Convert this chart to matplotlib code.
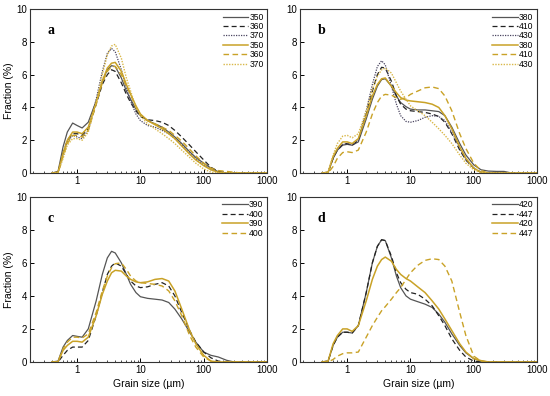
import matplotlib
matplotlib.use("Agg")
import matplotlib.pyplot as plt
from matplotlib.ticker import LogLocator, NullFormatter, FixedLocator

plt.rcParams["font.family"] = ["Liberation Sans", "DejaVu Sans"]

# grain size grid (um) shared by all curves
sizes = [0.4, 0.5, 0.6, 0.7, 0.85, 1.0, 1.2, 1.5, 2.0, 2.5, 3.0, 3.5, 4.0, 5.0, 6.0, 7.0,
         8.5, 10, 13, 17, 22, 28, 35, 45, 60, 75, 100, 130, 170, 230, 300, 400, 1000]

# panel a
a_350k = [0, 0.1, 1.6, 2.5, 3.05, 2.9, 2.75, 3.1, 4.4, 5.6, 6.3, 6.55, 6.5, 5.8, 5.0, 4.5, 3.9, 3.5, 3.2, 3.0, 2.8, 2.5, 2.2, 1.8, 1.3, 0.95, 0.6, 0.3, 0.08, 0, 0, 0, 0]
a_360k = [0, 0.05, 1.2, 2.0, 2.4, 2.4, 2.3, 2.7, 4.2, 5.4, 6.0, 6.3, 6.2, 5.5, 4.8, 4.3, 3.8, 3.45, 3.25, 3.2, 3.1, 2.9, 2.6, 2.2, 1.7, 1.3, 0.8, 0.35, 0.1, 0, 0, 0, 0]
a_370k = [0, 0.05, 1.1, 1.9, 2.3, 2.2, 2.1, 2.6, 4.5, 6.2, 7.3, 7.6, 7.4, 6.3, 5.2, 4.4, 3.6, 3.2, 2.9, 2.8, 2.6, 2.4, 2.1, 1.7, 1.2, 0.85, 0.5, 0.2, 0.05, 0, 0, 0, 0]
a_350g = [0, 0.05, 1.2, 2.0, 2.5, 2.5, 2.4, 2.8, 4.3, 5.6, 6.4, 6.7, 6.75, 6.2, 5.4, 4.8, 4.1, 3.6, 3.2, 2.95, 2.7, 2.4, 2.1, 1.65, 1.15, 0.8, 0.45, 0.2, 0.05, 0, 0, 0, 0]
a_360g = [0, 0.03, 1.0, 1.8, 2.3, 2.3, 2.2, 2.6, 4.2, 5.5, 6.2, 6.5, 6.5, 6.0, 5.3, 4.8, 4.0, 3.55, 3.2, 3.0, 2.8, 2.6, 2.3, 1.95, 1.45, 1.05, 0.6, 0.3, 0.15, 0.1, 0.05, 0, 0]
a_370g = [0, 0.02, 0.9, 1.7, 2.1, 2.1, 2.0, 2.5, 4.3, 6.0, 7.2, 7.75, 7.85, 7.0, 5.8, 5.0, 4.0, 3.5, 3.0, 2.7, 2.4, 2.1, 1.8, 1.4, 0.95, 0.6, 0.25, 0.05, 0, 0, 0, 0, 0]

# panel b
b_380k = [0, 0.05, 0.9, 1.4, 1.7, 1.75, 1.7, 1.9, 3.3, 4.5, 5.3, 5.7, 5.75, 5.3, 4.7, 4.3, 4.05, 3.9, 3.85, 3.85, 3.8, 3.75, 3.5, 2.8, 1.8, 1.1, 0.5, 0.2, 0.12, 0.1, 0.1, 0, 0]
b_410k = [0, 0.05, 0.9, 1.4, 1.75, 1.8, 1.7, 2.0, 3.6, 5.0, 6.0, 6.45, 6.4, 5.6, 4.7, 4.2, 3.9, 3.8, 3.75, 3.7, 3.6, 3.45, 3.1, 2.4, 1.4, 0.8, 0.3, 0.05, 0, 0, 0, 0, 0]
b_430k = [0, 0.05, 0.9, 1.4, 1.75, 1.8, 1.7, 2.0, 3.8, 5.4, 6.5, 6.85, 6.6, 5.3, 4.2, 3.5, 3.15, 3.1, 3.2, 3.4, 3.5, 3.45, 3.2, 2.5, 1.5, 0.8, 0.3, 0.05, 0, 0, 0, 0, 0]
b_380g = [0, 0.05, 1.0, 1.5, 1.9, 1.9, 1.8, 2.1, 3.5, 4.7, 5.4, 5.75, 5.8, 5.3, 4.9, 4.6, 4.45, 4.4, 4.35, 4.3, 4.2, 4.0, 3.5, 2.7, 1.6, 0.9, 0.3, 0.05, 0, 0, 0, 0, 0]
b_410g = [0, 0, 0.4, 0.9, 1.25, 1.3, 1.25, 1.4, 2.5, 3.6, 4.3, 4.7, 4.8, 4.75, 4.6, 4.5, 4.6, 4.8, 5.0, 5.2, 5.25, 5.15, 4.7, 3.8, 2.4, 1.5, 0.6, 0.15, 0, 0, 0, 0, 0]
b_430g = [0, 0.05, 1.1, 1.8, 2.25, 2.3, 2.15, 2.4, 3.8, 5.1, 5.9, 6.3, 6.4, 6.1, 5.5, 5.0, 4.5, 4.1, 3.8, 3.5, 3.1, 2.7, 2.3, 1.8, 1.1, 0.6, 0.2, 0.02, 0, 0, 0, 0, 0]

# panel c
c_390k = [0, 0.05, 0.9, 1.3, 1.6, 1.55, 1.5, 2.0, 3.7, 5.3, 6.3, 6.7, 6.6, 6.0, 5.3, 4.7, 4.2, 3.95, 3.85, 3.8, 3.75, 3.6, 3.2, 2.6, 1.8, 1.2, 0.6, 0.4, 0.3, 0.1, 0, 0, 0]
c_400k = [0, 0, 0.4, 0.7, 0.9, 0.9, 0.9, 1.3, 2.8, 4.2, 5.3, 5.8, 6.0, 5.8, 5.3, 4.9, 4.6, 4.5, 4.55, 4.7, 4.8, 4.6, 4.0, 3.0, 1.9, 1.2, 0.6, 0.25, 0.05, 0, 0, 0, 0]
c_390g = [0, 0.02, 0.7, 1.0, 1.25, 1.25, 1.2, 1.5, 2.8, 4.1, 4.9, 5.4, 5.55, 5.5, 5.2, 5.0, 4.85, 4.8, 4.85, 5.0, 5.05, 4.9, 4.3, 3.2, 1.9, 1.1, 0.4, 0.05, 0, 0, 0, 0, 0]
c_400g = [0, 0.02, 0.8, 1.2, 1.5, 1.5, 1.45, 1.7, 3.0, 4.3, 5.2, 5.7, 5.95, 6.0, 5.6, 5.2, 4.9, 4.8, 4.75, 4.7, 4.6, 4.3, 3.7, 2.8, 1.6, 0.9, 0.3, 0.05, 0, 0, 0, 0, 0]

# panel d
d_420k = [0, 0.05, 1.0, 1.5, 1.8, 1.8, 1.75, 2.2, 4.2, 6.0, 7.0, 7.4, 7.35, 6.3, 5.2, 4.5, 4.0, 3.8, 3.65, 3.5, 3.3, 2.9, 2.4, 1.7, 1.0, 0.55, 0.2, 0.05, 0, 0, 0, 0, 0]
d_447k = [0, 0.05, 1.0, 1.5, 1.8, 1.8, 1.75, 2.2, 4.2, 6.0, 7.0, 7.4, 7.35, 6.4, 5.4, 4.8, 4.4, 4.2, 4.1, 3.8, 3.4, 2.8, 2.2, 1.4, 0.7, 0.3, 0.05, 0, 0, 0, 0, 0, 0]
d_420g = [0, 0.05, 1.1, 1.6, 2.0, 2.0, 1.85, 2.2, 3.7, 5.0, 5.8, 6.2, 6.35, 6.1, 5.6, 5.3, 5.05, 4.9, 4.55, 4.2, 3.7, 3.2, 2.6, 1.9, 1.1, 0.6, 0.2, 0.08, 0, 0, 0, 0, 0]
d_447g = [0, 0, 0.15, 0.35, 0.5, 0.55, 0.55, 0.6, 1.5, 2.2, 2.7, 3.1, 3.35, 3.8, 4.2, 4.5, 5.0, 5.4, 5.85, 6.15, 6.25, 6.2, 5.8, 4.9, 3.0, 1.6, 0.35, 0.05, 0, 0, 0, 0, 0]

GRAY = "#555555"
DARK = "#222222"
DOT = "#4a4560"
GOLD = "#C9A227"
GOLD_L = "#D9B84A"

styles = {
    "k-": dict(color=GRAY, ls="-", lw=0.9),
    "k--": dict(color=DARK, ls=(0, (4, 2.5)), lw=0.9),
    "k:": dict(color=DOT, ls=(0, (1, 1)), lw=0.9),
    "g-": dict(color=GOLD, ls="-", lw=1.1),
    "g--": dict(color=GOLD, ls=(0, (4, 2.5)), lw=1.0),
    "g:": dict(color=GOLD_L, ls=(0, (1, 1)), lw=1.0),
}

panels = [
    ("a", [0.0545, 0.563, 0.431, 0.414],
     [("350", a_350k, "k-"), ("360", a_360k, "k--"), ("370", a_370k, "k:"),
      ("350", a_350g, "g-"), ("360", a_360g, "g--"), ("370", a_370g, "g:")], True, False),
    ("b", [0.5455, 0.563, 0.431, 0.414],
     [("380", b_380k, "k-"), ("410", b_410k, "k--"), ("430", b_430k, "k:"),
      ("380", b_380g, "g-"), ("410", b_410g, "g--"), ("430", b_430g, "g:")], False, False),
    ("c", [0.0545, 0.086, 0.431, 0.417],
     [("390", c_390k, "k-"), ("400", c_400k, "k--"),
      ("390", c_390g, "g-"), ("400", c_400g, "g--")], True, True),
    ("d", [0.5455, 0.086, 0.431, 0.417],
     [("420", d_420k, "k-"), ("447", d_447k, "k--"),
      ("420", d_420g, "g-"), ("447", d_447g, "g--")], False, True),
]

fig = plt.figure(figsize=(5.5, 3.96), dpi=100)

for letter, rect, series, ylab, xlab in panels:
    ax = fig.add_axes(rect)
    for name, vals, st in series:
        ax.plot(sizes, vals, label=name, **styles[st])
    ax.set_xscale("log")
    ax.set_xlim(0.18, 1000)
    ax.set_ylim(0, 10)
    ax.xaxis.set_major_locator(FixedLocator([1, 10, 100, 1000]))
    ax.set_xticklabels(["1", "10", "100", "1000"])
    ax.xaxis.set_minor_locator(LogLocator(base=10, subs=range(2, 10)))
    ax.xaxis.set_minor_formatter(NullFormatter())
    ax.set_yticks([0, 2, 4, 6, 8, 10])
    ax.tick_params(axis="both", which="major", direction="in", length=3, width=0.7,
                   labelsize=7, pad=2)
    ax.tick_params(axis="x", which="minor", direction="in", length=1.8, width=0.5)
    for sp in ax.spines.values():
        sp.set_linewidth(0.8)
        sp.set_color("#333333")
    if ylab:
        ax.set_ylabel("Fraction (%)", fontsize=7.5, labelpad=2)
    if xlab:
        ax.set_xlabel("Grain size (\u00b5m)", fontsize=7.5, labelpad=3)
    ax.text(0.075, 0.87, letter, transform=ax.transAxes, fontsize=10, fontweight="bold",
            family="Liberation Serif", va="center", ha="left")
    ax.legend(loc="upper right", frameon=False, fontsize=6.2, handlelength=3.0,
              handletextpad=0.1, labelspacing=0.05, borderaxespad=0.2,
              borderpad=0.2)

fig.savefig("out.png", dpi=100)
plt.close(fig)
